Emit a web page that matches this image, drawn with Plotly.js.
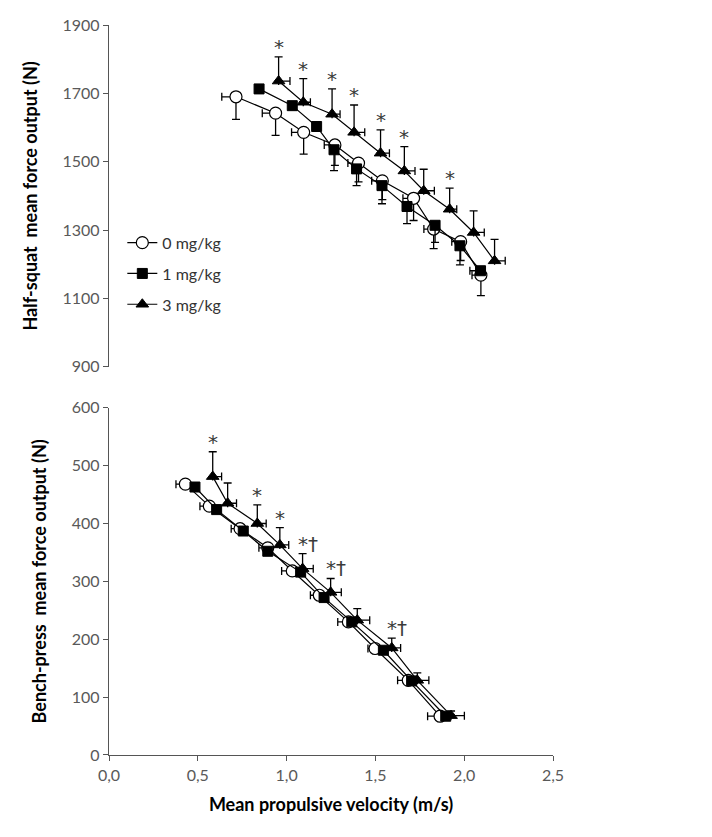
<!DOCTYPE html>
<html>
<head>
<meta charset="utf-8">
<script src="https://cdn.plot.ly/plotly-3.0.1.min.js"></script>
<style>html,body{margin:0;padding:0;background:#fff;}#chart{width:712px;height:837px;}</style>
</head>
<body>
<div id="chart"></div>
<script>
// ---- Half-squat (top panel) ----
var hsC_x = [0.715, 0.938, 1.096, 1.272, 1.405, 1.539, 1.715, 1.828, 1.980, 2.094];
var hsC_y = [1690, 1642, 1586, 1549, 1496, 1444, 1393, 1303, 1266, 1168];
var hsC_ysd = [66, 65, 64, 60, 55, 55, 65, 57, 55, 60];
var hsC_xsd = [0.080, 0.075, 0.068, 0.060, 0.060, 0.060, 0.060, 0.055, 0.050, 0.050];

var hsS_x = [0.845, 1.032, 1.169, 1.267, 1.394, 1.537, 1.678, 1.836, 1.976, 2.092];
var hsS_y = [1713, 1664, 1603, 1535, 1479, 1430, 1369, 1314, 1254, 1181];
var hsS_ysd = [0, 0, 0, 61, 49, 53, 50, 50, 56, 0];
var hsS_xsd = [0, 0, 0, 0, 0, 0, 0, 0, 0, 0.06];

var hsT_x = [0.955, 1.094, 1.256, 1.380, 1.529, 1.663, 1.772, 1.918, 2.053, 2.171];
var hsT_y = [1736, 1674, 1639, 1586, 1525, 1473, 1415, 1361, 1293, 1210];
var hsT_ysd = [71, 69, 74, 80, 68, 71, 63, 62, 63, 63];
var hsT_xsd = [0.064, 0.04, 0.045, 0.06, 0.05, 0.06, 0.06, 0.04, 0.06, 0.06];
var hsMarkIdx = [0, 1, 2, 3, 4, 5, 7];
var hsMarkText = ['*', '*', '*', '*', '*', '*', '*'];

// ---- Bench-press (bottom panel) ----
var bpC_x = [0.430, 0.565, 0.738, 0.894, 1.032, 1.184, 1.348, 1.498, 1.685, 1.864];
var bpC_y = [468, 430, 391, 358, 318, 276, 230, 184, 129, 67];
var bpC_xsd = [0.053, 0.053, 0.05, 0.05, 0.06, 0.05, 0.06, 0.04, 0.06, 0.07];

var bpS_x = [0.484, 0.606, 0.756, 0.894, 1.079, 1.211, 1.367, 1.545, 1.704, 1.896];
var bpS_y = [463, 424, 387, 352, 316, 272, 230, 181, 128, 67];

var bpT_x = [0.584, 0.668, 0.835, 0.962, 1.090, 1.248, 1.398, 1.592, 1.736, 1.926];
var bpT_y = [481, 435, 400, 363, 322, 281, 233, 185, 129, 68];
var bpT_ysd = [43, 35, 32, 30, 26, 24, 20, 17, 13, 8];
var bpT_xsd = [0.05, 0.05, 0.05, 0.05, 0.06, 0.06, 0.07, 0.05, 0.065, 0.075];
var bpMarkIdx = [0, 2, 3, 4, 5, 7];
var bpMarkText = ['*', '*', '*', '*\u2020', '*\u2020', '*\u2020'];

var seriesNames = ['0 mg/kg', '1 mg/kg', '3 mg/kg'];
var xTickVals = [0, 0.5, 1.0, 1.5, 2.0, 2.5];
var hsTickVals = [900, 1100, 1300, 1500, 1700, 1900];
var bpTickVals = [0, 100, 200, 300, 400, 500, 600];

function zeros(n){ var a=[]; for(var i=0;i<n;i++) a.push(0); return a; }

var ERR = {type:'data', symmetric:false, color:'#000', thickness:1.3, width:4};
function err(plus, minus){ return Object.assign({}, ERR, {array: plus, arrayminus: minus}); }

var mkC = {symbol:'circle', size:12, color:'#fff', line:{color:'#000', width:1.2}};
var mkS = {symbol:'square', size:10, color:'#000', line:{color:'#000', width:1}};
var mkT = {symbol:'triangle-up', size:11, color:'#000', line:{color:'#000', width:1}};
var LN = {color:'#000', width:1.2};

var traces = [
  {x:hsC_x, y:hsC_y, name:seriesNames[0], legendgroup:'a', mode:'lines+markers', marker:mkC, line:LN,
   error_y: err(zeros(10), hsC_ysd), error_x: err(zeros(10), hsC_xsd), xaxis:'x2', yaxis:'y2'},
  {x:hsS_x, y:hsS_y, name:seriesNames[1], legendgroup:'b', mode:'lines+markers', marker:mkS, line:LN,
   error_y: err(zeros(10), hsS_ysd), error_x: err(zeros(10), hsS_xsd), xaxis:'x2', yaxis:'y2'},
  {x:hsT_x, y:hsT_y, name:seriesNames[2], legendgroup:'c', mode:'lines+markers', marker:mkT, line:LN,
   error_y: err(hsT_ysd, zeros(10)), error_x: err(hsT_xsd, zeros(10)), xaxis:'x2', yaxis:'y2'},
  {x:bpC_x, y:bpC_y, name:seriesNames[0], showlegend:false, mode:'lines+markers', marker:mkC, line:LN,
   error_x: err(zeros(10), bpC_xsd), xaxis:'x', yaxis:'y'},
  {x:bpS_x, y:bpS_y, name:seriesNames[1], showlegend:false, mode:'lines+markers', marker:mkS, line:LN,
   xaxis:'x', yaxis:'y'},
  {x:bpT_x, y:bpT_y, name:seriesNames[2], showlegend:false, mode:'lines+markers', marker:mkT, line:LN,
   error_y: err(bpT_ysd, zeros(10)), error_x: err(bpT_xsd, zeros(10)), xaxis:'x', yaxis:'y'}
];

var markFont = {family:'DejaVu Sans, sans-serif', size:20, color:'#3a3a3a'};
var annotations = [];
hsMarkIdx.forEach(function(i, k){
  annotations.push({xref:'x2', yref:'y2', x:hsT_x[i], y:hsT_y[i]+hsT_ysd[i], text:hsMarkText[k],
    showarrow:false, xanchor:'center', yanchor:'bottom', yshift:-4, font:markFont});
});
bpMarkIdx.forEach(function(i, k){
  var dag = bpMarkText[k].length > 1;
  annotations.push({xref:'x', yref:'y', x:bpT_x[i], y:bpT_y[i]+bpT_ysd[i], text:bpMarkText[k],
    showarrow:false, xanchor: dag ? 'left' : 'center', xshift: dag ? -7 : 0, yanchor:'bottom', yshift:-4,
    font:markFont});
});

var tickFont = {family:'Lato, sans-serif', size:16, color:'#595959'};
var titleFont = {family:'Lato, sans-serif', size:18, color:'#000', weight:'bold'};

var layout = {
  width:712, height:837,
  margin:{l:109, r:159, t:25, b:81.5},
  paper_bgcolor:'#fff', plot_bgcolor:'#fff',
  separators:',.',
  showlegend:true,
  legend:{x:0.03, y:0.725, xanchor:'left', yanchor:'top', bgcolor:'rgba(0,0,0,0)',
    font:{family:'Lato, sans-serif', size:16, color:'#333'}, traceorder:'grouped', tracegroupgap:7,
    itemwidth:30},
  xaxis:{domain:[0,1], range:[0,2.5], anchor:'y', tickvals:xTickVals, tickformat:'.1f',
    showline:true, linecolor:'#555', linewidth:1.3, ticks:'outside', ticklen:5, tickcolor:'#555',
    showgrid:false, zeroline:false, tickfont:tickFont,
    title:{text:'Mean propulsive velocity (m/s)', font:titleFont, standoff:16}},
  yaxis:{domain:[0,0.4757], range:[0,600], anchor:'x', tickvals:bpTickVals,
    showline:true, linecolor:'#555', linewidth:1.3, ticks:'outside', ticklen:5, tickcolor:'#555',
    showgrid:false, zeroline:false, tickfont:tickFont,
    title:{text:'Bench-press  mean force output (N)', font:titleFont, standoff:20}},
  xaxis2:{domain:[0,1], range:[0,2.5], anchor:'y2', matches:'x', visible:false, showgrid:false, zeroline:false},
  yaxis2:{domain:[0.5318,1], range:[900,1900], anchor:'x2', tickvals:hsTickVals,
    showline:true, linecolor:'#555', linewidth:1.3, ticks:'outside', ticklen:5, tickcolor:'#555',
    showgrid:false, zeroline:false, tickfont:tickFont,
    title:{text:'Half-squat  mean force output (N)', font:titleFont, standoff:20}},
  annotations: annotations
};

Plotly.newPlot('chart', traces, layout, {displayModeBar:false, staticPlot:true});
</script>
</body>
</html>
